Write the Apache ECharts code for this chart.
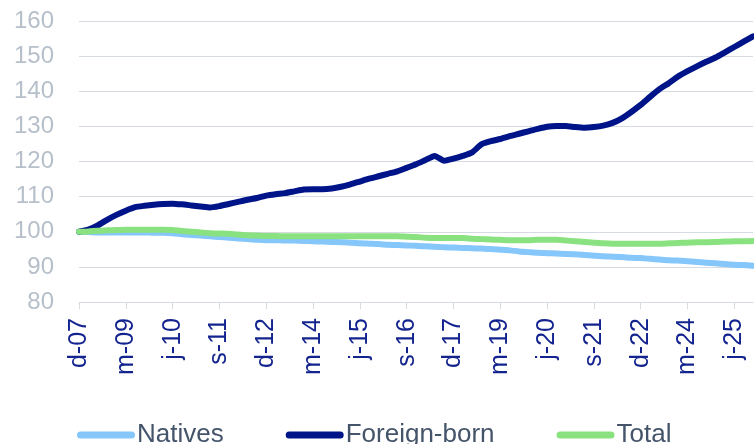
<!DOCTYPE html>
<html>
<head>
<meta charset="utf-8">
<script src="https://cdn.jsdelivr.net/npm/echarts@6/dist/echarts.min.js"></script>
<style>
  html, body { margin: 0; padding: 0; background: #fff; }
  #chart { width: 754px; height: 444px; }
</style>
</head>
<body>
<div id="chart"></div>
<script>
// quarterly, Dec 2007 = 100
const quarters = [
  'd-07',
  'm-08', 'j-08', 's-08', 'd-08',
  'm-09', 'j-09', 's-09', 'd-09',
  'm-10', 'j-10', 's-10', 'd-10',
  'm-11', 'j-11', 's-11', 'd-11',
  'm-12', 'j-12', 's-12', 'd-12',
  'm-13', 'j-13', 's-13', 'd-13',
  'm-14', 'j-14', 's-14', 'd-14',
  'm-15', 'j-15', 's-15', 'd-15',
  'm-16', 'j-16', 's-16', 'd-16',
  'm-17', 'j-17', 's-17', 'd-17',
  'm-18', 'j-18', 's-18', 'd-18',
  'm-19', 'j-19', 's-19', 'd-19',
  'm-20', 'j-20', 's-20', 'd-20',
  'm-21', 'j-21', 's-21', 'd-21',
  'm-22', 'j-22', 's-22', 'd-22',
  'm-23', 'j-23', 's-23', 'd-23',
  'm-24', 'j-24', 's-24', 'd-24',
  'm-25', 'j-25', 's-25', 'd-25'
]

const natives = [
  100.0,
  99.9, 99.8, 99.8, 99.8,
  99.8, 99.8, 99.8, 99.7,
  99.7, 99.6, 99.3, 99.1,
  98.9, 98.7, 98.5, 98.3,
  98.1, 97.9, 97.7, 97.6,
  97.6, 97.5, 97.5, 97.4,
  97.3, 97.2, 97.1, 97.0,
  96.9, 96.7, 96.6, 96.5,
  96.3, 96.2, 96.1, 96.0,
  95.9, 95.7, 95.6, 95.5,
  95.4, 95.3, 95.2, 95.1,
  94.9, 94.7, 94.4, 94.2,
  94.0, 93.9, 93.8, 93.7,
  93.6, 93.4, 93.2, 93.0,
  92.9, 92.8, 92.6, 92.5,
  92.3, 92.1, 91.9, 91.8,
  91.6, 91.4, 91.2, 91.0,
  90.8, 90.6, 90.5, 90.3
]

const foreignBorn = [
  100.0,
  100.6, 101.8, 103.4, 104.8,
  106.0, 107.0, 107.4, 107.7,
  107.9, 108.0, 107.8, 107.5,
  107.2, 106.9, 107.3, 107.9,
  108.5, 109.1, 109.6, 110.3,
  110.7, 111.0, 111.5, 112.0,
  112.1, 112.1, 112.3, 112.8,
  113.5, 114.3, 115.1, 115.8,
  116.5, 117.2, 118.2, 119.2,
  120.4, 121.6, 120.2, 120.8,
  121.6, 122.6, 124.9, 125.8,
  126.4, 127.2, 127.9, 128.6,
  129.3, 129.9, 130.1, 130.1,
  129.8, 129.6, 129.8, 130.2,
  131.0, 132.3, 134.1, 136.1,
  138.4, 140.6, 142.3, 144.2,
  145.7, 147.1, 148.4, 149.6,
  151.1, 152.6, 154.1, 155.6
]

const total = [
  100.0,
  100.1, 100.3, 100.4, 100.5,
  100.6, 100.6, 100.6, 100.6,
  100.6, 100.5, 100.2, 100.0,
  99.8, 99.6, 99.5, 99.4,
  99.2, 99.0, 98.9, 98.8,
  98.8, 98.7, 98.7, 98.7,
  98.7, 98.7, 98.7, 98.7,
  98.7, 98.7, 98.7, 98.7,
  98.7, 98.7, 98.6, 98.5,
  98.3, 98.2, 98.2, 98.2,
  98.2, 98.0, 97.9, 97.8,
  97.7, 97.6, 97.6, 97.6,
  97.7, 97.7, 97.7, 97.5,
  97.3, 97.1, 96.9, 96.7,
  96.6, 96.6, 96.6, 96.6,
  96.6, 96.6, 96.7, 96.8,
  96.9, 97.0, 97.0, 97.1,
  97.2, 97.3, 97.3, 97.4
]

const yTicks = [80, 90, 100, 110, 120, 130, 140, 150, 160]

const font = 'Liberation Sans, Arial, sans-serif'
const gridColor = '#d6dbe1'
// pill shaped legend marker
const pill = 'path://M3.5,0 H54.5 A3.5,3.5 0 0 1 54.5,7 H3.5 A3.5,3.5 0 0 1 3.5,0 Z'

const chart = echarts.init(document.getElementById('chart'))

function lineSeries(name, data, color) {
  return {
    name: name,
    type: 'line',
    data: data,
    showSymbol: false,
    symbol: 'none',
    smooth: 0.2,
    lineStyle: { width: 6, color: color, cap: 'round', join: 'round' },
    itemStyle: { color: color }
  }
}

chart.setOption({
  animation: false,
  backgroundColor: '#fff',
  grid: {
    left: 79,
    right: 1,
    top: 21,
    bottom: 142
  },
  legend: {
    left: 72,
    top: 417,
    icon: pill,
    itemWidth: 58,
    itemHeight: 7,
    itemGap: 62,
    textStyle: {
      fontFamily: font,
      fontSize: 26,
      color: '#44546a',
      padding: [0, 0, 0, -3]
    },
    data: ['Natives', 'Foreign-born', 'Total']
  },
  xAxis: {
    type: 'category',
    data: quarters,
    boundaryGap: false,
    axisLine: { lineStyle: { color: gridColor, width: 1 } },
    axisTick: { interval: 4, length: 7, lineStyle: { color: gridColor } },
    axisLabel: {
      interval: 4,
      rotate: 90,
      margin: 16,
      fontFamily: font,
      fontSize: 25,
      color: '#14248f'
    },
    splitLine: { show: false }
  },
  yAxis: {
    type: 'value',
    min: yTicks[0],
    max: yTicks[yTicks.length - 1],
    interval: 10,
    axisLine: { show: false },
    axisTick: { show: false },
    axisLabel: {
      margin: 25,
      fontFamily: font,
      fontSize: 24,
      color: '#b7c0ca'
    },
    splitLine: { lineStyle: { color: gridColor, width: 1 } }
  },
  series: [
    lineSeries('Natives', natives, '#85c6fb'),
    lineSeries('Foreign-born', foreignBorn, '#001489'),
    lineSeries('Total', total, '#89e27f')
  ]
})
</script>
</body>
</html>
